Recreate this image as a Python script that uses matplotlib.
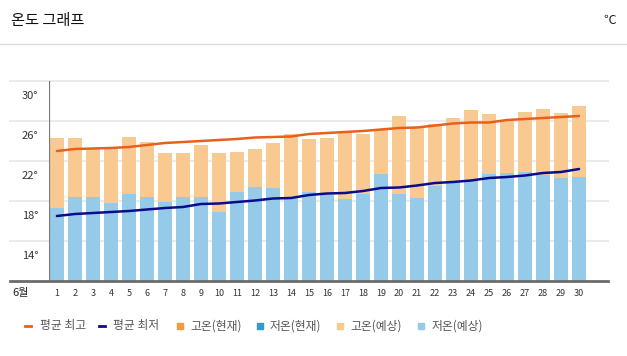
import matplotlib
matplotlib.use("Agg")
import matplotlib.pyplot as plt
import numpy as np
from matplotlib.lines import Line2D
from matplotlib.patches import Rectangle

plt.rcParams['font.family'] = ['Noto Sans CJK KR', 'DejaVu Sans']

days = [str(d) for d in range(1, 31)]
high_forecast = [24.3, 24.3, 23.2, 23.2, 24.4, 23.9, 22.8, 22.8, 23.6, 22.8,
                 22.9, 23.2, 23.8, 24.7, 24.2, 24.3, 24.8, 24.7, 25.1, 26.5,
                 25.3, 25.7, 26.3, 27.1, 26.7, 26.1, 26.9, 27.2, 26.8, 27.5]
low_forecast = [17.3, 18.4, 18.4, 17.8, 18.7, 18.4, 17.9, 18.4, 18.4, 16.9,
                18.9, 19.4, 19.3, 18.4, 18.9, 18.6, 18.2, 18.7, 20.7, 18.7,
                18.3, 19.5, 20.0, 20.1, 20.7, 20.8, 20.9, 20.6, 20.3, 20.4]
avg_high = [23.0, 23.2, 23.25, 23.3, 23.4, 23.6, 23.8, 23.9, 24.0, 24.1,
            24.2, 24.35, 24.4, 24.45, 24.7, 24.8, 24.9, 25.0, 25.15, 25.3,
            25.35, 25.55, 25.75, 25.85, 25.85, 26.1, 26.2, 26.3, 26.4, 26.5]
avg_low = [16.5, 16.7, 16.8, 16.9, 17.0, 17.15, 17.3, 17.4, 17.7, 17.75,
           17.9, 18.05, 18.25, 18.3, 18.6, 18.75, 18.8, 19.0, 19.3, 19.35,
           19.55, 19.8, 19.9, 20.05, 20.3, 20.4, 20.55, 20.8, 20.9, 21.2]
y_ticks = [30, 26, 22, 18, 14]
legend_labels = ['평균 최고', '평균 최저', '고온(현재)', '저온(현재)', '고온(예상)', '저온(예상)']
month_label = '6월'
title = '온도 그래프'
unit = '℃'

c_avg_high = '#E8601C'
c_avg_low = '#0B0B8C'
c_high_now = '#F39A43'
c_low_now = '#3399D0'
c_high_fc = '#F8C990'
c_low_fc = '#95CBE8'

W, H = 627, 356
fig = plt.figure(figsize=(W / 100, H / 100), dpi=100)
fig.patch.set_facecolor('white')

def fx(px):
    return px / W

def fy(py):
    return 1 - py / H

ax_l, ax_r, ax_t, ax_b = 49, 608, 81, 281
ax = fig.add_axes([fx(ax_l), fy(ax_b), fx(ax_r - ax_l), (ax_b - ax_t) / H])
x = np.arange(len(days))
ax.set_xlim(-0.44, 30.61)
ax.set_ylim(10, 30)

for s in ax.spines.values():
    s.set_visible(False)
ax.set_xticks([])
ax.set_yticks([])

# gridlines extending to the left
xmin_frac = (10 - ax_l) / (ax_r - ax_l)
for v in y_ticks:
    ax.axhline(v, xmin=xmin_frac, xmax=1, color='#ebebeb', lw=1.5, zorder=0, clip_on=False)

lows = np.array(low_forecast)
highs = np.array(high_forecast)
ax.bar(x, lows, width=0.78, color=c_low_fc, zorder=2)
ax.bar(x, highs - lows, bottom=lows, width=0.78, color=c_high_fc, zorder=2)

ax.plot(x, avg_high, color=c_avg_high, lw=1.8, zorder=3, solid_capstyle='round')
ax.plot(x, avg_low, color=c_avg_low, lw=1.8, zorder=3, solid_capstyle='round')

# axes lines
ax.axhline(10, xmin=xmin_frac, xmax=1, color='#6b6b6b', lw=2, zorder=4, clip_on=False)
ax.axvline(-0.44, color='#7a7a7a', lw=1.6, zorder=4)

# y labels (drawn below their gridlines)
for v in y_ticks:
    ax.text(-0.44 - 0.6, v - 1.5, f'{v}°', ha='right', va='center',
            fontsize=8, color='#333333', clip_on=False)

# x labels
for i, d in enumerate(days):
    ax.text(i, 10, d, ha='center', va='center', fontsize=6.5, color='#333333',
            transform=ax.transData + matplotlib.transforms.ScaledTranslation(0, -12 / 100, fig.dpi_scale_trans))
fig.text(fx(12), fy(293), month_label, ha='left', va='center', fontsize=8, color='#222222')

# header
fig.text(fx(11), fy(20), title, ha='left', va='center', fontsize=11, color='#111111')
fig.text(fx(616), fy(20), unit, ha='right', va='center', fontsize=9, color='#222222')
fig.add_artist(Line2D([0, 1], [fy(44), fy(44)], color='#dddddd', lw=1, transform=fig.transFigure))

# legend
leg_y = 326
items = [
    ('line', c_avg_high, 28, 40),
    ('line', c_avg_low, 102, 113),
    ('sq', c_high_now, 180, 190),
    ('sq', c_low_now, 260, 270),
    ('sq', c_high_fc, 340, 350),
    ('sq', c_low_fc, 421, 432),
]
for (kind, col, mx, tx), lab in zip(items, legend_labels):
    if kind == 'line':
        fig.add_artist(Line2D([fx(mx - 3), fx(mx + 3)], [fy(leg_y), fy(leg_y)], color=col, lw=2,
                              transform=fig.transFigure))
    else:
        fig.add_artist(Rectangle((fx(mx - 3), fy(leg_y + 3)), fx(6), 6 / H, color=col,
                                 transform=fig.transFigure))
    fig.text(fx(tx), fy(leg_y), lab, ha='left', va='center', fontsize=8.5, color='#555555')

fig.savefig('out.png', dpi=100, facecolor='white')
